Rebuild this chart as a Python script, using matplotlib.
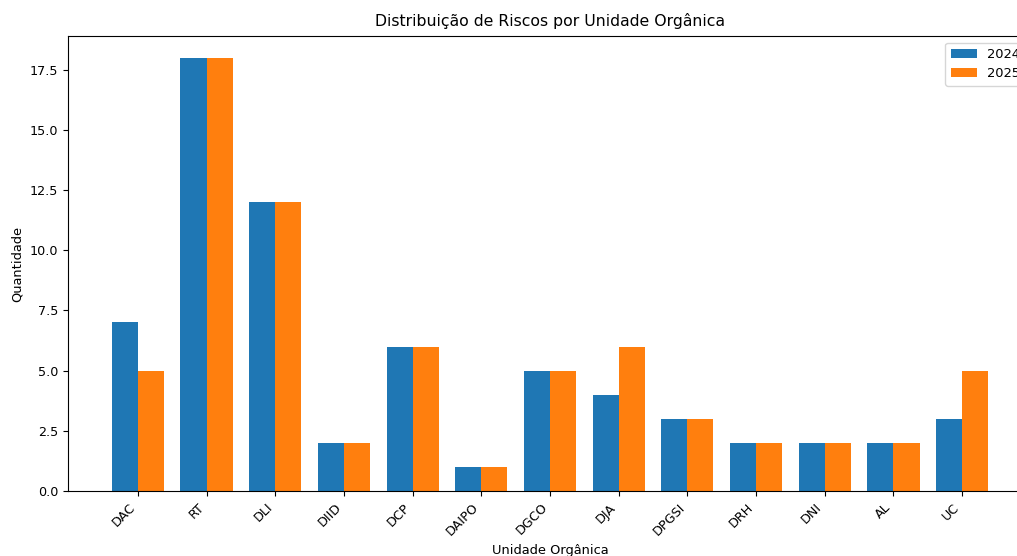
import numpy as np
import matplotlib.pyplot as plt

# Data
unidades = ['DAC', 'RT', 'DLI', 'DIID', 'DCP', 'DAIPO', 'DGCO', 'DJA',
            'DPGSI', 'DRH', 'DNI', 'AL', 'UC']
riscos_2024 = [7, 18, 12, 2, 6, 1, 5, 4, 3, 2, 2, 2, 3]
riscos_2025 = [5, 18, 12, 2, 6, 1, 5, 6, 3, 2, 2, 2, 5]

x = np.arange(len(unidades))
width = 0.38

fig = plt.figure(figsize=(10.17, 5.56), dpi=100)
# axes runs past the right edge, like the cropped original
ax = fig.add_axes([68 / 1017, 65 / 556, 964 / 1017, 455 / 556])

ax.bar(x - width / 2, riscos_2024, width, label='2024', color='#1f77b4')
ax.bar(x + width / 2, riscos_2025, width, label='2025', color='#ff7f0e')

ax.set_title('Distribuição de Riscos por Unidade Orgânica', fontsize=11.3, pad=7)
ax.set_xlabel('Unidade Orgânica', fontsize=9.4)
ax.set_ylabel('Quantidade', fontsize=9.4)
ax.set_xticks(x)
ax.set_xticklabels(unidades, rotation=45, ha='right', fontsize=9.2)
ax.tick_params(axis='y', labelsize=9.2)
ax.legend(loc='upper right', fontsize=9.4)

fig.savefig('out.png', dpi=100)
